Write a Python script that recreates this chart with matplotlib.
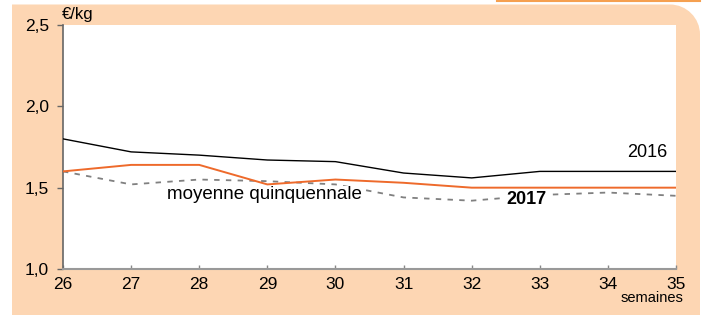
import matplotlib
matplotlib.use("Agg")
import matplotlib.pyplot as plt
import matplotlib.transforms as mtransforms
from matplotlib.patches import PathPatch
from matplotlib.path import Path
from matplotlib.lines import Line2D

plt.rcParams["font.family"] = ["Liberation Sans", "DejaVu Sans"]

# ---------------------------------------------------------------------------
# Data
# ---------------------------------------------------------------------------

weeks = [26, 27, 28, 29, 30, 31, 32, 33, 34, 35]
price_2016 = [1.80, 1.72, 1.70, 1.67, 1.66, 1.59, 1.56, 1.60, 1.60, 1.60]
price_2017 = [1.60, 1.64, 1.64, 1.52, 1.55, 1.53, 1.50, 1.50, 1.50, 1.50]
price_avg5 = [1.60, 1.52, 1.55, 1.54, 1.52, 1.44, 1.42, 1.455, 1.47, 1.45]
y_ticks = [1.0, 1.5, 2.0, 2.5]
y_labels = ["1,0", "1,5", "2,0", "2,5"]

PEACH = "#FDD6B3"
ORANGE = "#EE6A2B"
W, H = 708, 315

# ---------------------------------------------------------------------------
# Figure
# ---------------------------------------------------------------------------

fig = plt.figure(figsize=(W / 100, H / 100), dpi=100)
fig.patch.set_facecolor("white")

# pixel coordinates, origin top-left
px = mtransforms.Affine2D().scale(1 / W, -1 / H).translate(0, 1) + fig.transFigure

def fx(p):
    return p / W

def fy(p):
    return 1 - p / H

# peach frame, rounded top-right corner only
left, top, right, bottom, r = 12, 4.5, 700, 400, 30
k = 0.55 * r
frame = Path(
    [(left, bottom), (left, top), (right - r, top),
     (right - r + k, top), (right, top + r - k), (right, top + r),
     (right, bottom), (left, bottom)],
    [Path.MOVETO, Path.LINETO, Path.LINETO,
     Path.CURVE4, Path.CURVE4, Path.CURVE4,
     Path.LINETO, Path.CLOSEPOLY])
fig.patches.append(PathPatch(frame, transform=px, facecolor=PEACH,
                             edgecolor="none", zorder=0, clip_on=False))
fig.lines.append(Line2D([497, 700], [0.5, 0.5], transform=px,
                        color="#F5A050", lw=1.5))

ax = fig.add_axes([fx(63), fy(269), fx(676) - fx(63), fy(25) - fy(269)])
ax.set_zorder(2)
ax.set_facecolor("white")

ax.plot(weeks, price_avg5, color="#808080", lw=1.3, ls=(0, (3, 3.5)), zorder=2)
ax.plot(weeks, price_2016, color="black", lw=1.0, zorder=3)
ax.plot(weeks, price_2017, color=ORANGE, lw=1.4, zorder=4)

ax.set_xlim(26, 35)
ax.set_ylim(1.0, 2.5)
ax.set_xticks(weeks)
ax.set_xticklabels([str(w) for w in weeks], fontsize=12.5)
ax.set_yticks(y_ticks)
ax.set_yticklabels(y_labels, fontsize=12.5)
ax.tick_params(axis="y", length=4, width=1, color="#666666", pad=6)
ax.tick_params(axis="x", length=3, width=1, color="#888888", pad=6, direction="in")
for side in ("top", "right"):
    ax.spines[side].set_visible(False)
ax.spines["left"].set_color("#666666")
ax.spines["left"].set_linewidth(1.2)
ax.spines["bottom"].set_color("#999999")
ax.spines["bottom"].set_linewidth(1.5)

ax.text(35 - 0.12, 1.715, "2016", fontsize=13, ha="right", va="center")
ax.text(32.8, 1.425, "2017", fontsize=13, fontweight="bold", ha="center", va="center",
        bbox=dict(facecolor="white", edgecolor="none", pad=0.5), zorder=5)
ax.text(27.52, 1.455, "moyenne quinquennale", fontsize=13.5, ha="left", va="center",
        bbox=dict(facecolor="white", edgecolor="none", pad=0.5), zorder=5)

fig.text(fx(62), fy(14), "€/kg", fontsize=12, ha="left", va="center", zorder=3)
fig.text(fx(683), fy(298), "semaines", fontsize=10.5, ha="right", va="center", zorder=3)

fig.savefig("out.png", dpi=100)
